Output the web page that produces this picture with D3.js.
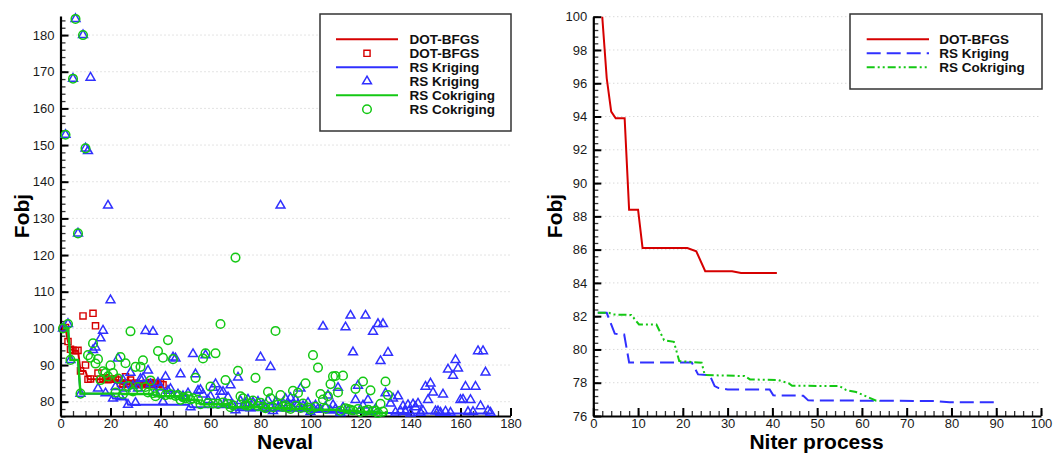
<!DOCTYPE html>
<html>
<head>
<meta charset="utf-8">
<script src="https://cdn.jsdelivr.net/npm/d3@7"></script>
<style>
  html, body { margin: 0; padding: 0; background: #fff; }
  svg { display: block; font-family: "Liberation Sans", Arial, Helvetica, sans-serif; }
</style>
</head>
<body>
<svg id="chart" width="1055" height="453"></svg>
<script>
// ---------- DATA ----------
// Left panel: objective value for each evaluation (Neval = index + 1)
const dotEvalY = [
  100.0,100.2,96.4,94.3,94.0,93.9,94.0,88.4,103.4,90.0,
  86.1,86.2,104.1,100.7,87.8,86.1,86.3,86.5,86.0,86.1,
  86.1,86.2,85.9,85.0,84.7,86.8,85.0,85.9,84.8,85.1,
  84.7,84.9,84.6,85.0,84.8,85.2,84.7,85.0,84.8,85.1,
  84.6
];
const krigEvalY = [
  100.0,152.8,101.2,91.4,168.1,184.4,125.9,82.2,180.0,149.1,
  148.4,168.4,94.1,94.8,83.6,97.3,99.4,82.3,133.5,107.7,
  80.9,84.0,91.8,81.2,85.9,83.6,79.2,87.9,84.3,79.7,
  83.6,86.2,86.4,99.3,88.5,84.8,99.1,82.5,85.2,83.9,
  80.0,86.8,83.0,83.5,92.1,91.8,82.0,87.5,81.5,81.0,
  82.3,78.5,93.0,87.5,83.0,83.2,82.0,92.7,80.5,81.4,
  83.8,84.8,80.2,82.7,82.7,79.6,81.2,84.5,79.0,77.7,
  86.6,80.2,78.8,79.5,80.6,78.2,79.8,78.5,80.0,92.1,
  79.2,78.0,80.3,89.5,77.5,79.9,78.4,133.5,79.6,80.8,
  79.0,81.0,78.2,80.5,79.3,83.6,78.8,78.0,79.7,77.2,
  78.3,79.0,78.0,77.8,100.5,78.5,81.7,77.6,79.1,78.0,
  83.8,76.9,78.4,100.3,77.5,103.5,93.5,80.5,84.4,77.8,
  79.0,103.5,80.5,77.3,99.1,78.0,101.2,91.1,101.2,82.3,
  93.4,79.5,80.9,77.1,81.5,77.5,78.8,77.2,79.1,76.8,
  79.3,78.5,79.5,77.0,77.5,84.1,80.5,85.0,82.5,77.4,
  77.4,77.0,82.0,77.3,88.8,77.0,87.1,91.4,89.1,80.5,
  80.6,84.1,77.2,80.5,77.2,84.1,93.8,78.8,93.8,88.0,
  77.5,77.0
];
const cokrigEvalY = [
  100.0,152.8,101.2,91.4,168.1,184.4,125.9,82.2,180.0,149.1,
  92.7,92.0,95.9,90.4,91.6,85.9,88.3,87.8,86.9,89.9,
  87.8,82.5,86.3,92.2,82.1,90.5,84.3,99.2,82.8,89.5,
  84.0,89.5,91.3,84.0,82.5,85.8,82.3,81.5,93.8,82.3,
  92.0,81.8,96.8,82.0,91.6,81.6,81.8,80.5,81.2,80.9,
  81.5,80.6,80.9,86.5,80.6,79.3,91.8,93.2,79.6,84.1,
  79.5,93.2,79.4,101.2,79.8,85.9,79.4,78.5,79.0,119.3,
  88.4,81.5,80.9,79.0,78.9,79.5,80.3,86.5,78.8,79.7,
  78.6,78.2,82.7,80.9,78.5,99.3,79.2,81.8,78.6,79.0,
  78.4,78.0,83.0,78.9,82.4,78.3,79.5,85.0,78.4,77.8,
  92.7,78.6,89.3,82.1,80.6,78.1,81.5,84.8,86.9,87.0,
  82.5,77.5,87.1,78.2,78.0,77.8,77.6,83.5,78.0,77.2,
  85.5,77.5,77.8,83.1,77.4,77.6,76.9,79.4,77.3,85.5,
  81.8
];

// Right panel: best objective vs iteration (polyline vertices)
const dotIterX    = [2, 3, 4, 5, 7, 8, 10, 11, 21, 23, 25, 31, 33, 41];
const dotIterY    = [100, 96.3, 94.3, 93.9, 93.9, 88.4, 88.4, 86.1, 86.1, 85.9, 84.7, 84.7, 84.6, 84.6];
const krigIterX   = [1, 3, 4.8, 6.9, 8, 22, 23.4, 26, 27.1, 28, 30, 39.4, 40.2, 46.9, 48, 76.6, 79.6, 90.5];
const krigIterY   = [82.2, 82.2, 80.95, 80.9, 79.22, 79.22, 78.5, 78.46, 77.8, 77.68, 77.6, 77.6, 77.24, 77.22, 76.94, 76.9, 76.82, 76.82];
const cokrigIterX = [1, 3.5, 4.5, 8.5, 10.2, 14.1, 15.8, 18, 19.2, 24.2, 24.9, 33.8, 35, 41.3, 43.7, 44.4, 55, 56.5, 58.7, 63.2, 64];
const cokrigIterY = [82.2, 82.2, 82.1, 82.07, 81.5, 81.5, 80.56, 80.46, 79.3, 79.2, 78.46, 78.4, 78.2, 78.16, 77.96, 77.82, 77.8, 77.56, 77.44, 76.92, 76.9];

// Tick values
const leftXMajor  = [0, 20, 40, 60, 80, 100, 120, 140, 160, 180];
const leftYMajor  = [80, 90, 100, 110, 120, 130, 140, 150, 160, 170, 180];
const rightXMajor = [0, 10, 20, 30, 40, 50, 60, 70, 80, 90, 100];
const rightYMajor = [76, 78, 80, 82, 84, 86, 88, 90, 92, 94, 96, 98, 100];

const seriesNames = ["DOT-BFGS", "RS Kriging", "RS Cokriging"];
const colors = { red: "#d60000", blue: "#3030ff", green: "#14c814" };

// ---------- DRAWING ----------
const svg = d3.select("#chart");

function range(a, b, step) {
  const out = [];
  for (let v = a; v <= b + 1e-9; v += step) out.push(+v.toFixed(4));
  return out;
}
function runningMin(arr) {
  const out = []; let m = Infinity;
  arr.forEach((v, i) => { m = Math.min(m, v); out.push([i + 1, m]); });
  return out;
}

function drawAxes(x, y, xMajor, xMinor, yMajor, yMinor) {
  const [x0, x1] = x.range();
  const [yb, yt] = y.range();
  // dotted grid at major y values
  svg.append("g").selectAll("line").data(yMajor.filter(v => y(v) < yb - 2)).join("line")
    .attr("x1", x0).attr("x2", x1).attr("y1", d => y(d)).attr("y2", d => y(d))
    .attr("stroke", "#c8c8c8").attr("stroke-width", 1).attr("stroke-dasharray", "1,3");

  const gyMinor = svg.append("g").attr("transform", `translate(${x0},0)`)
    .call(d3.axisLeft(y).tickValues(yMinor).tickSize(-5).tickSizeOuter(0).tickFormat(""));
  gyMinor.select(".domain").remove();
  gyMinor.selectAll("line").attr("stroke", "#333").attr("stroke-width", 1.3);

  const gxMinor = svg.append("g").attr("transform", `translate(0,${yb})`)
    .call(d3.axisBottom(x).tickValues(xMinor).tickSize(-5).tickSizeOuter(0).tickFormat(""));
  gxMinor.select(".domain").remove();
  gxMinor.selectAll("line").attr("stroke", "#333").attr("stroke-width", 1.3);

  const gy = svg.append("g").attr("transform", `translate(${x0},0)`)
    .call(d3.axisLeft(y).tickValues(yMajor).tickSize(-8).tickSizeOuter(0).tickPadding(6));
  const gx = svg.append("g").attr("transform", `translate(0,${yb})`)
    .call(d3.axisBottom(x).tickValues(xMajor).tickSize(-8).tickSizeOuter(0).tickPadding(5));
  [gx, gy].forEach(g => {
    g.select(".domain").attr("stroke", "#000").attr("stroke-width", 2.2);
    g.selectAll(".tick line").attr("stroke", "#000").attr("stroke-width", 2);
    g.selectAll("text").attr("font-size", 13).attr("fill", "#1a1a1a")
      .attr("font-family", "Liberation Sans, Arial, sans-serif");
  });
  gx.selectAll("text").attr("dy", "0.45em").attr("y", 6);
}

function axisTitles(cx, xTitle, fx) {
  svg.append("text").attr("x", cx).attr("y", 449).attr("text-anchor", "middle")
    .attr("font-size", 21).attr("font-weight", "bold").text(xTitle);
  svg.append("text").attr("transform", `translate(${fx},216) rotate(-90)`)
    .attr("text-anchor", "middle").attr("font-size", 21).attr("font-weight", "bold").text("Fobj");
}

// ----- Left panel -----
const xL = d3.scaleLinear().domain([0, 180]).range([60.5, 510.5]);
const yL = d3.scaleLinear().domain([76.1, 185.2]).range([416, 16]);
drawAxes(xL, yL, leftXMajor, range(0, 180, 5), leftYMajor, range(76, 184, 2));
axisTitles(285, "Neval", 29);

const lineL = d3.line().x(d => xL(d[0])).y(d => yL(d[1]));
const triSym = d3.symbol().type(d3.symbolTriangle).size(34);
const sqSym = d3.symbol().type(d3.symbolSquare).size(38);

const plotL = svg.append("g");
// DOT-BFGS
plotL.append("path").datum(runningMin(dotEvalY)).attr("d", lineL)
  .attr("fill", "none").attr("stroke", colors.red).attr("stroke-width", 2);
plotL.append("g").selectAll("path").data(dotEvalY).join("path")
  .attr("d", sqSym).attr("transform", (d, i) => `translate(${xL(i + 1)},${yL(d)})`)
  .attr("fill", "none").attr("stroke", colors.red).attr("stroke-width", 1.4);
// RS Kriging
plotL.append("path").datum(runningMin(krigEvalY)).attr("d", lineL)
  .attr("fill", "none").attr("stroke", colors.blue).attr("stroke-width", 2);
plotL.append("g").selectAll("path").data(krigEvalY).join("path")
  .attr("d", triSym).attr("transform", (d, i) => `translate(${xL(i + 1)},${yL(d)})`)
  .attr("fill", "none").attr("stroke", colors.blue).attr("stroke-width", 1.5);
// RS Cokriging
plotL.append("path").datum(runningMin(cokrigEvalY)).attr("d", lineL)
  .attr("fill", "none").attr("stroke", colors.green).attr("stroke-width", 2.4);
plotL.append("g").selectAll("circle").data(cokrigEvalY).join("circle")
  .attr("cx", (d, i) => xL(i + 1)).attr("cy", d => yL(d)).attr("r", 4.3)
  .attr("fill", "none").attr("stroke", colors.green).attr("stroke-width", 1.5);

// Left legend
const legL = svg.append("g");
legL.append("rect").attr("x", 320).attr("y", 14).attr("width", 191).attr("height", 117)
  .attr("fill", "#fff").attr("stroke", "#333").attr("stroke-width", 1.5);
const legLRows = [
  { name: seriesNames[0], color: colors.red, kind: "line" },
  { name: seriesNames[0], color: colors.red, kind: "square" },
  { name: seriesNames[1], color: colors.blue, kind: "line" },
  { name: seriesNames[1], color: colors.blue, kind: "tri" },
  { name: seriesNames[2], color: colors.green, kind: "line" },
  { name: seriesNames[2], color: colors.green, kind: "circle" }
];
legLRows.forEach((r, i) => {
  const cy = 39.3 + i * 14;
  const g = legL.append("g");
  if (r.kind === "line") {
    g.append("line").attr("x1", 336).attr("x2", 398).attr("y1", cy).attr("y2", cy)
      .attr("stroke", r.color).attr("stroke-width", 2);
  } else if (r.kind === "square") {
    g.append("path").attr("d", sqSym).attr("transform", `translate(367,${cy})`)
      .attr("fill", "none").attr("stroke", r.color).attr("stroke-width", 1.4);
  } else if (r.kind === "tri") {
    g.append("path").attr("d", triSym).attr("transform", `translate(367,${cy})`)
      .attr("fill", "none").attr("stroke", r.color).attr("stroke-width", 1.5);
  } else {
    g.append("circle").attr("cx", 367).attr("cy", cy).attr("r", 4.3)
      .attr("fill", "none").attr("stroke", r.color).attr("stroke-width", 1.5);
  }
  g.append("text").attr("x", 409.5).attr("y", cy + 5).attr("font-size", 13.5)
    .attr("font-weight", "bold").attr("fill", "#111").text(r.name);
});

// ----- Right panel -----
const xR = d3.scaleLinear().domain([0, 100]).range([593.3, 1041]);
const yR = d3.scaleLinear().domain([76, 100]).range([416, 16.7]);
drawAxes(xR, yR, rightXMajor, range(0, 100, 2), rightYMajor, range(76, 100, 0.4));
axisTitles(816.5, "Niter process", 562);

const lineR = d3.line().x(d => xR(d[0])).y(d => yR(d[1]));
const dash = { red: null, blue: "14,6", green: "8,3,2,3,2,3" };
[
  { xs: dotIterX, ys: dotIterY, c: colors.red, dash: null },
  { xs: krigIterX, ys: krigIterY, c: colors.blue, dash: dash.blue },
  { xs: cokrigIterX, ys: cokrigIterY, c: colors.green, dash: dash.green }
].forEach(s => {
  svg.append("path").datum(s.xs.map((v, i) => [v, s.ys[i]])).attr("d", lineR)
    .attr("fill", "none").attr("stroke", s.c).attr("stroke-width", 2)
    .attr("stroke-dasharray", s.dash);
});

// Right legend
const legR = svg.append("g");
legR.append("rect").attr("x", 850).attr("y", 14).attr("width", 192).attr("height", 75)
  .attr("fill", "#fff").attr("stroke", "#333").attr("stroke-width", 1.5);
[
  { name: seriesNames[0], c: colors.red, dash: null },
  { name: seriesNames[1], c: colors.blue, dash: dash.blue },
  { name: seriesNames[2], c: colors.green, dash: dash.green }
].forEach((r, i) => {
  const cy = 39.3 + i * 14;
  legR.append("line").attr("x1", 866.7).attr("x2", 929).attr("y1", cy).attr("y2", cy)
    .attr("stroke", r.c).attr("stroke-width", 2).attr("stroke-dasharray", r.dash);
  legR.append("text").attr("x", 939.3).attr("y", cy + 5).attr("font-size", 13.5)
    .attr("font-weight", "bold").attr("fill", "#111").text(r.name);
});
</script>
</body>
</html>
